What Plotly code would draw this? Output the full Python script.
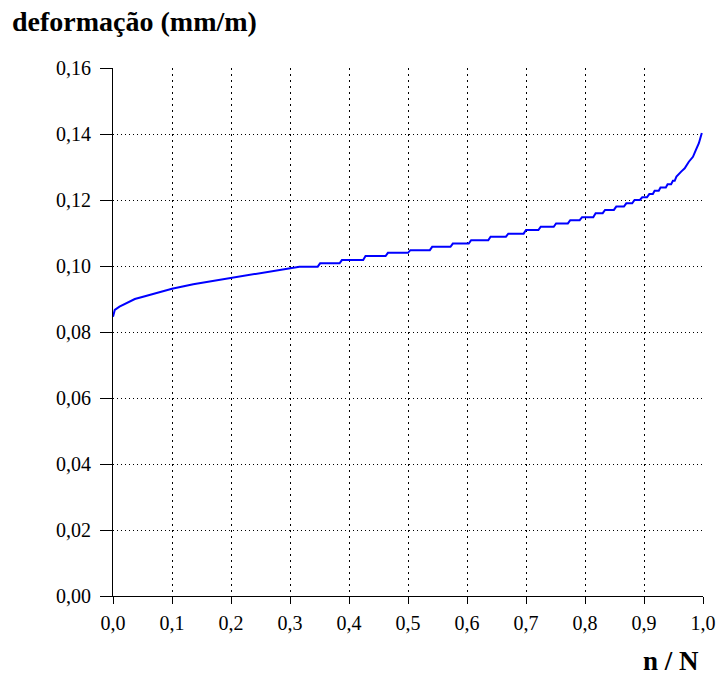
import plotly.graph_objects as go

# n/N values (x) and strain in mm/m (y)
n_over_N = [
    0.000, 0.003, 0.011, 0.023, 0.037, 0.051, 0.074, 0.100, 0.136, 0.164,
    0.200, 0.249, 0.282, 0.297, 0.316,
    0.347, 0.351, 0.384, 0.388, 0.424, 0.428, 0.462, 0.466, 0.500, 0.504,
    0.537, 0.541, 0.572, 0.576, 0.603, 0.607, 0.636, 0.640, 0.666, 0.670,
    0.696, 0.700, 0.721, 0.725, 0.747, 0.751, 0.771, 0.775, 0.791, 0.795,
    0.814, 0.818, 0.830, 0.834, 0.849, 0.853, 0.866, 0.870, 0.880, 0.884,
    0.893, 0.897, 0.905, 0.909, 0.915, 0.918, 0.925, 0.928, 0.937, 0.940,
    0.946, 0.949, 0.952,
    0.955, 0.963, 0.969, 0.976, 0.983, 0.988, 0.993, 0.998,
]
deformacao = [
    0.0846, 0.0867, 0.0877, 0.0887, 0.0900, 0.0907, 0.0919, 0.0931, 0.0945, 0.0953,
    0.0965, 0.0978, 0.0989, 0.0992, 0.0998,
    0.0998, 0.1008, 0.1008, 0.1018, 0.1018, 0.1030, 0.1030, 0.1040, 0.1040, 0.1048,
    0.1048, 0.1058, 0.1058, 0.1068, 0.1068, 0.1078, 0.1078, 0.1089, 0.1089, 0.1098,
    0.1098, 0.1109, 0.1109, 0.1119, 0.1119, 0.1129, 0.1129, 0.1139, 0.1139, 0.1148,
    0.1148, 0.1160, 0.1160, 0.1170, 0.1170, 0.1180, 0.1180, 0.1190, 0.1190, 0.1200,
    0.1200, 0.1208, 0.1208, 0.1218, 0.1218, 0.1228, 0.1228, 0.1238, 0.1238, 0.1248,
    0.1248, 0.1258, 0.1258,
    0.1271, 0.1286, 0.1296, 0.1316, 0.1331, 0.1352, 0.1372, 0.1403,
]

x_ticks = [0.0, 0.1, 0.2, 0.3, 0.4, 0.5, 0.6, 0.7, 0.8, 0.9, 1.0]
y_ticks = [0.00, 0.02, 0.04, 0.06, 0.08, 0.10, 0.12, 0.14, 0.16]

FONT = "Liberation Serif, Times New Roman, serif"

fig = go.Figure()
fig.add_trace(go.Scatter(
    x=n_over_N, y=deformacao, mode="lines",
    line=dict(color="#0000FF", width=2),
    showlegend=False, hoverinfo="skip",
))

fig.update_layout(
    width=720, height=675,
    margin=dict(l=113, r=17, t=68, b=79),
    paper_bgcolor="white", plot_bgcolor="white",
    separators=",.",
    font=dict(family=FONT, size=20, color="black"),
    title=dict(
        text="<b>deformação (mm/m)</b>",
        font=dict(family=FONT, size=28, color="black"),
        xref="container", yref="container",
        x=12 / 720, xanchor="left",
        y=1 - 21 / 675, yanchor="middle",
    ),
    annotations=[dict(
        text="<b>n / N</b>", xref="paper", yref="paper",
        x=(701 - 113) / 590, xanchor="right",
        y=(596 - 661) / 528, yanchor="middle",
        showarrow=False,
        font=dict(family=FONT, size=27, color="black"),
    )],
)

fig.update_xaxes(
    range=[0, 1], tickvals=x_ticks, tickformat=".1f",
    showline=True, linecolor="black", linewidth=1,
    ticks="outside", ticklen=7, tickcolor="black",
    showgrid=True, gridcolor="black", gridwidth=1, griddash="2px,4px",
    zeroline=False, ticklabelstandoff=2, automargin=False,
)
fig.update_yaxes(
    range=[0, 0.16], tickvals=y_ticks, tickformat=".2f",
    showline=True, linecolor="black", linewidth=1,
    ticks="outside", ticklen=12, tickcolor="black",
    showgrid=True, gridcolor="black", gridwidth=1, griddash="1px,3px",
    zeroline=False, ticklabelstandoff=5, automargin=False,
)

fig.write_html("out.html")
